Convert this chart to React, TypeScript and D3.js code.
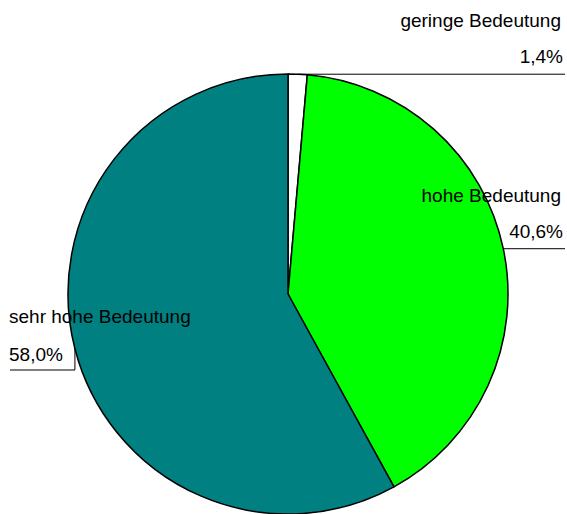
import { useEffect, useRef } from "react";
import * as d3 from "d3";

const categories = ["geringe Bedeutung", "hohe Bedeutung", "sehr hohe Bedeutung"];
const shares = [1.4, 40.6, 58.0];
const shareLabels = ["1,4%", "40,6%", "58,0%"];
const colors = ["#ffffff", "#00ff00", "#008080"];

export default function App() {
  const svgRef = useRef<SVGSVGElement>(null);

  useEffect(() => {
    if (!svgRef.current) return;
    const width = 567;
    const height = 514;
    const svg = d3.select(svgRef.current);
    svg.selectAll("*").remove();
    svg.attr("width", width).attr("height", height);

    const cx = 288;
    const cy = 294;
    const r = 220;

    const pie = d3
      .pie<number>()
      .sort(null)
      .value((d) => d);
    const arcs = pie(shares);

    const arc = d3.arc<d3.PieArcDatum<number>>().innerRadius(0).outerRadius(r);
    const rim = d3.arc<d3.PieArcDatum<number>>().innerRadius(r).outerRadius(r);

    const g = svg.append("g").attr("transform", `translate(${cx},${cy})`);

    g.selectAll("path")
      .data(arcs)
      .join("path")
      .attr("d", arc)
      .attr("fill", (_, i) => colors[i])
      .attr("stroke", "#000")
      .attr("stroke-width", 1.5)
      .attr("stroke-linejoin", "round");

    const font = "'Liberation Sans', Arial, sans-serif";
    const fs = "19px";

    // Leader lines and labels
    arcs.forEach((a, i) => {
      const [px, py] = rim.centroid(a);
      const x0 = cx + px;
      const y0 = cy + py;
      if (x0 > cx) {
        svg
          .append("line")
          .attr("x1", x0)
          .attr("y1", y0)
          .attr("x2", 565)
          .attr("y2", y0)
          .attr("stroke", "#000")
          .attr("stroke-width", 1);
        svg
          .append("text")
          .attr("x", 561)
          .attr("y", y0 - 47)
          .attr("text-anchor", "end")
          .attr("font-family", font)
          .attr("font-size", fs)
          .attr("fill", "#000")
          .text(categories[i]);
        svg
          .append("text")
          .attr("x", 563)
          .attr("y", y0 - 11)
          .attr("text-anchor", "end")
          .attr("font-family", font)
          .attr("font-size", fs)
          .attr("fill", "#000")
          .text(shareLabels[i]);
      } else {
        const yBend = 370;
        svg
          .append("polyline")
          .attr("points", `${x0},${y0} ${x0},${yBend} 10,${yBend}`)
          .attr("fill", "none")
          .attr("stroke", "#000")
          .attr("stroke-width", 1);
        svg
          .append("text")
          .attr("x", 9)
          .attr("y", yBend - 47)
          .attr("font-family", font)
          .attr("font-size", fs)
          .attr("fill", "#000")
          .text(categories[i]);
        svg
          .append("text")
          .attr("x", 9)
          .attr("y", yBend - 9)
          .attr("font-family", font)
          .attr("font-size", fs)
          .attr("fill", "#000")
          .text(shareLabels[i]);
      }
    });
  }, []);

  return (
    <svg
      ref={svgRef}
      style={{ position: "absolute", left: 0, top: 0, display: "block" }}
    />
  );
}
